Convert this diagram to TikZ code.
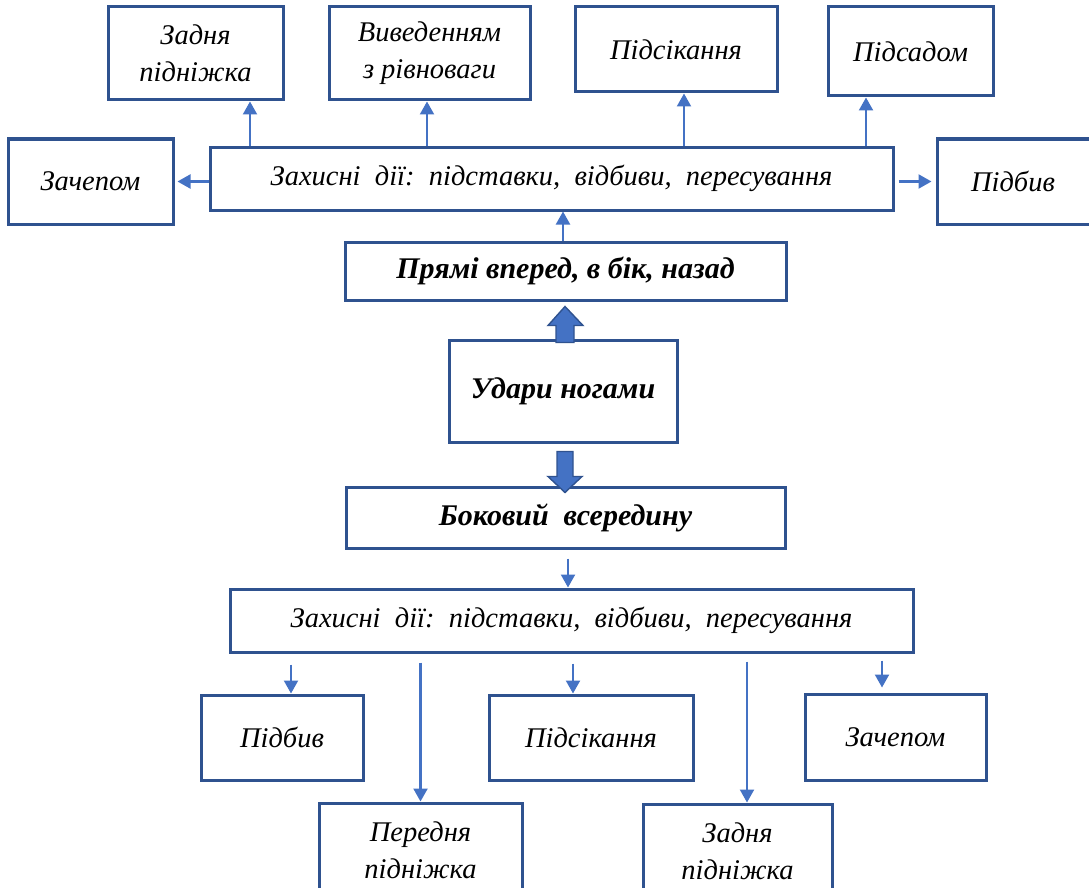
\documentclass[tikz,border=0pt]{standalone}
\usepackage{fontspec}
\setmainfont{Liberation Serif}
\usetikzlibrary{arrows.meta}
\definecolor{boxblue}{RGB}{47,82,143}
\definecolor{arrblue}{RGB}{68,114,196}
\tikzset{
  bx/.style={draw=boxblue, line width=3pt, fill=white, inner sep=0pt, align=center,
    font=\fontsize{28.5}{37}\selectfont\itshape},
  bbx/.style={bx, font=\fontsize{30}{37}\selectfont\bfseries\itshape},
  conn/.style={draw=arrblue, line width=2.2pt, -{Triangle[length=13pt,width=14pt]}},
  blockarr/.style={draw=boxblue, line width=1.4pt, fill=arrblue, line join=miter}
}
\begin{document}
\begin{tikzpicture}[x=1pt,y=-1pt]
\useasboundingbox (0,0) rectangle (1089,888);
\clip (0,0) rectangle (1089,888);
% top row
\node[bx, minimum width=175pt, minimum height=93pt] (zl) at (195.5,53.5) {Задня\\підніжка};
\node[bx, minimum width=201pt, minimum height=93pt] (vv) at (429.5,53.5) {Виведенням\\з рівноваги};
\node[bx, minimum width=202pt, minimum height=85pt] (ps) at (676,49.5) {Підсікання};
\node[bx, minimum width=165pt, minimum height=89pt] (pd) at (910.5,51.5) {Підсадом};
\node[bx, minimum width=165pt, minimum height=85pt] (zc) at (90.5,181.5) {Зачепом};
\node[bx, minimum width=683pt, minimum height=63pt] (zt) at (551.5,178.5) {Захисні\ \ дії:\ \ підставки,\ \ відбиви,\ \ пересування};
\node[bx, minimum width=158pt, minimum height=85pt] (pb) at (1016,181.5) {\hspace*{-6pt}Підбив};
% middle
\node[bbx, minimum width=441pt, minimum height=58pt] (pr) at (565.5,271) {Прямі вперед, в бік, назад};
\node[bbx, minimum width=228pt, minimum height=102pt] (ud) at (563,391) {Удари ногами};
\node[bbx, minimum width=439pt, minimum height=61pt] (bk) at (565.5,517.5) {Боковий\ \ всередину};
% bottom
\node[bx, minimum width=683pt, minimum height=63pt] (zb) at (571.5,620.5) {Захисні\ \ дії:\ \ підставки,\ \ відбиви,\ \ пересування};
\node[bx, minimum width=162pt, minimum height=85pt] (pb2) at (282,737.5) {Підбив};
\node[bx, minimum width=204pt, minimum height=85pt] (ps2) at (591,737.5) {Підсікання};
\node[bx, minimum width=181pt, minimum height=86pt] (zc2) at (895.5,737) {Зачепом};
\node[bx, minimum width=203pt, minimum height=94pt] (pn) at (420.5,850) {Передня\\підніжка};
\node[bx, minimum width=189pt, minimum height=94pt] (zd2) at (737.5,851) {Задня\\підніжка};
% column coordinates
\coordinate (a1) at (250,0);
\coordinate (a2) at (427,0);
\coordinate (a3) at (684,0);
\coordinate (a4) at (866,0);
\coordinate (a5) at (563,0);
\coordinate (b0) at (568,0);
\coordinate (b1) at (291,0);
\coordinate (b2) at (573,0);
\coordinate (b3) at (747,0);
\coordinate (b4) at (882,0);
% top connectors
\draw[conn] (zt.north -| a1) -- (zl.south -| a1);
\draw[conn] (zt.north -| a2) -- (vv.south -| a2);
\draw[conn] (zt.north -| a3) -- (ps.south -| a3);
\draw[conn] (zt.north -| a4) -- (pd.south -| a4);
\draw[conn, shorten >=3pt] ([yshift=-3pt]zt.west) -- ([yshift=-3pt]zc.east |- zt.west);
\draw[conn, shorten <=4pt, shorten >=4pt] ([yshift=-3pt]zt.east) -- ([yshift=-3pt]pb.west |- zt.east);
\draw[conn] (pr.north -| a5) -- (zt.south -| a5);
% block arrows
\draw[blockarr, shift={(ud.north)}] (-7,4) -- (-7,-13) -- (-15,-13) -- (2,-32) -- (20,-13) -- (11,-13) -- (11,4) -- cycle;
\draw[blockarr, shift={(ud.south)}] (-6,8) -- (-6,33) -- (-15,33) -- (2,49) -- (19,33) -- (10,33) -- (10,8) -- cycle;
% bottom connectors
\draw[conn, shorten <=9pt] (bk.south -| b0) -- (zb.north -| b0);
\draw[conn, shorten <=11pt] (zb.south -| b1) -- (pb2.north -| b1);
\draw[conn, shorten <=9pt] (zb.south -| pn) -- (pn.north);
\draw[conn, shorten <=10pt] (zb.south -| b2) -- (ps2.north -| b2);
\draw[conn, shorten <=8pt] (zb.south -| b3) -- (zd2.north -| b3);
\draw[conn, shorten <=7pt, shorten >=5pt] (zb.south -| b4) -- (zc2.north -| b4);
\end{tikzpicture}
\end{document}
